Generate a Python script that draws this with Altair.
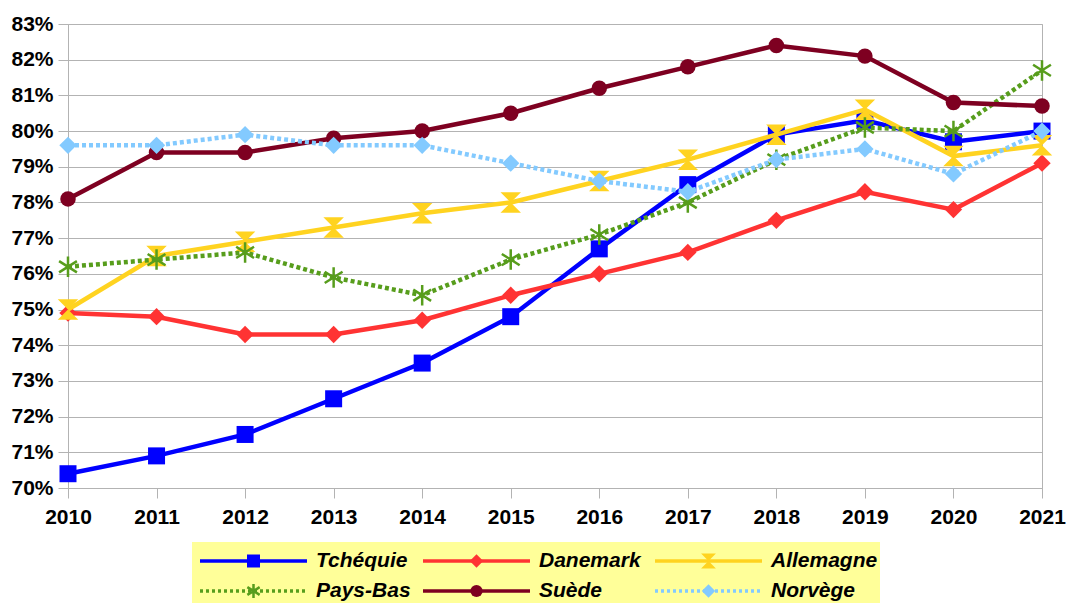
import altair as alt
import pandas as pd

years = list(range(2010, 2022))
series = ["Tchéquie", "Danemark", "Allemagne", "Pays-Bas", "Suède", "Norvège"]
tchequie = [70.4, 70.9, 71.5, 72.5, 73.5, 74.8, 76.7, 78.5, 79.9, 80.3, 79.7, 80.0]
danemark = [74.9, 74.8, 74.3, 74.3, 74.7, 75.4, 76.0, 76.6, 77.5, 78.3, 77.8, 79.1]
allemagne = [75.0, 76.5, 76.9, 77.3, 77.7, 78.0, 78.6, 79.2, 79.9, 80.6, 79.3, 79.6]
pays_bas = [76.2, 76.4, 76.6, 75.9, 75.4, 76.4, 77.1, 78.0, 79.2, 80.1, 80.0, 81.7]
suede = [78.1, 79.4, 79.4, 79.8, 80.0, 80.5, 81.2, 81.8, 82.4, 82.1, 80.8, 80.7]
norvege = [79.6, 79.6, 79.9, 79.6, 79.6, 79.1, 78.6, 78.3, 79.2, 79.5, 78.8, 80.0]
all_values = [tchequie, danemark, allemagne, pays_bas, suede, norvege]
y_ticks = [70, 71, 72, 73, 74, 75, 76, 77, 78, 79, 80, 81, 82, 83]

# styles
colors = ["#0000ff", "#ff3333", "#ffd320", "#579d1c", "#7e0021", "#83caff"]
dashes = [None, None, None, [4, 3], None, [4, 3]]
HOURGLASS = "M-1,-1L1,-1L-1,1L1,1Z"
ASTERISK = "M0,-1L0,1M-0.87,-0.55L0.87,0.55M-0.87,0.55L0.87,-0.55"
shapes = ["square", "diamond", HOURGLASS, ASTERISK, "circle", "diamond"]
sizes = [289, 300, 420, 420, 240, 300]
leg_sizes = [169, 180, 220, 200, 150, 180]
filled = [True, True, True, False, True, True]

FONT = "Liberation Sans"
GRID = "#b3b3b3"
W, H = 974, 464

xscale = alt.Scale(domain=[2010, 2021], nice=False, zero=False)
yscale = alt.Scale(domain=[0.70, 0.83], nice=False, zero=False)
xaxis = alt.Axis(values=years, format="d", title=None, grid=False, tickSize=10,
                 labelPadding=8, domainColor=GRID, tickColor=GRID,
                 labelFont=FONT, labelFontSize=21, labelFontWeight="bold",
                 labelColor="black", labelFlush=False)
yaxis = alt.Axis(values=[v / 100 for v in y_ticks], format=".0%", title=None,
                 grid=True, gridColor=GRID, tickSize=10, labelPadding=5,
                 domainColor=GRID, tickColor=GRID, labelFont=FONT,
                 labelFontSize=21, labelFontWeight="bold", labelColor="black")

layers = []
for i, name in enumerate(series):
    df = pd.DataFrame({"year": years, "value": [v / 100 for v in all_values[i]],
                       "series": name})
    base = alt.Chart(df).encode(
        x=alt.X("year:Q", scale=xscale, axis=xaxis),
        y=alt.Y("value:Q", scale=yscale, axis=yaxis),
    )
    line_kw = dict(color=colors[i], strokeWidth=4.5)
    if dashes[i]:
        line_kw["strokeDash"] = dashes[i]
        line_kw["strokeCap"] = "butt"
    layers.append(base.mark_line(**line_kw))
    if filled[i]:
        pts = base.mark_point(shape=shapes[i], size=sizes[i], filled=True,
                              color=colors[i], opacity=1)
    else:
        pts = base.mark_point(shape=shapes[i], size=sizes[i], filled=False,
                              color=colors[i], opacity=1, strokeWidth=2.5)
    layers.append(pts)

main = alt.layer(*layers).properties(
    width=W, height=H, view=alt.ViewBackground(stroke=GRID, strokeWidth=1)
)

# legend panel: its origin is aligned with the plot's left edge
LW, LH = W, 61
BOX = (124, 812)
COL_X = [132, 355, 587]
ROW_Y = [19, 49]
LINE_LEN = 107
TEXT_DX = 116
lx = alt.Scale(domain=[0, LW], nice=False, zero=False)
ly = alt.Scale(domain=[0, LH], nice=False, zero=False, reverse=True)

bg = alt.Chart(pd.DataFrame({"a": [BOX[0]], "b": [BOX[1]], "c": [0], "d": [LH]})).mark_rect(
    color="#ffff99"
).encode(
    x=alt.X("a:Q", scale=lx, axis=None), x2="b:Q",
    y=alt.Y("c:Q", scale=ly, axis=None), y2="d:Q",
)
leg_layers = [bg]
for i, name in enumerate(series):
    c, r = i % 3, i // 3
    x0 = COL_X[c]
    d = pd.DataFrame({"x0": [x0], "x1": [x0 + LINE_LEN], "xm": [x0 + LINE_LEN / 2],
                      "xt": [x0 + TEXT_DX], "y": [ROW_Y[r]], "label": [name]})
    b = alt.Chart(d)
    rule_kw = dict(color=colors[i], strokeWidth=3.5)
    if dashes[i]:
        rule_kw["strokeDash"] = [3, 3]
        rule_kw["strokeCap"] = "butt"
    leg_layers.append(b.mark_rule(**rule_kw).encode(
        x=alt.X("x0:Q", scale=lx, axis=None), x2="x1:Q",
        y=alt.Y("y:Q", scale=ly, axis=None)))
    if filled[i]:
        pk = dict(shape=shapes[i], size=leg_sizes[i], filled=True, color=colors[i], opacity=1)
    else:
        pk = dict(shape=shapes[i], size=leg_sizes[i], filled=False, color=colors[i],
                  opacity=1, strokeWidth=2.5)
    leg_layers.append(b.mark_point(**pk).encode(
        x=alt.X("xm:Q", scale=lx, axis=None), y=alt.Y("y:Q", scale=ly, axis=None)))
    leg_layers.append(b.mark_text(align="left", baseline="middle", font=FONT,
                                  fontSize=21, fontStyle="italic", fontWeight="bold",
                                  color="black").encode(
        x=alt.X("xt:Q", scale=lx, axis=None), y=alt.Y("y:Q", scale=ly, axis=None),
        text="label:N"))

legend = alt.layer(*leg_layers).properties(
    width=LW, height=LH, view=alt.ViewBackground(stroke=None)
)

chart = alt.vconcat(main, legend, spacing=14).properties(
    padding={"left": 2, "top": 4, "right": 0, "bottom": 0}
).configure_view(stroke=None)

chart.save("out.html", embed_options={"renderer": "svg", "actions": False})
